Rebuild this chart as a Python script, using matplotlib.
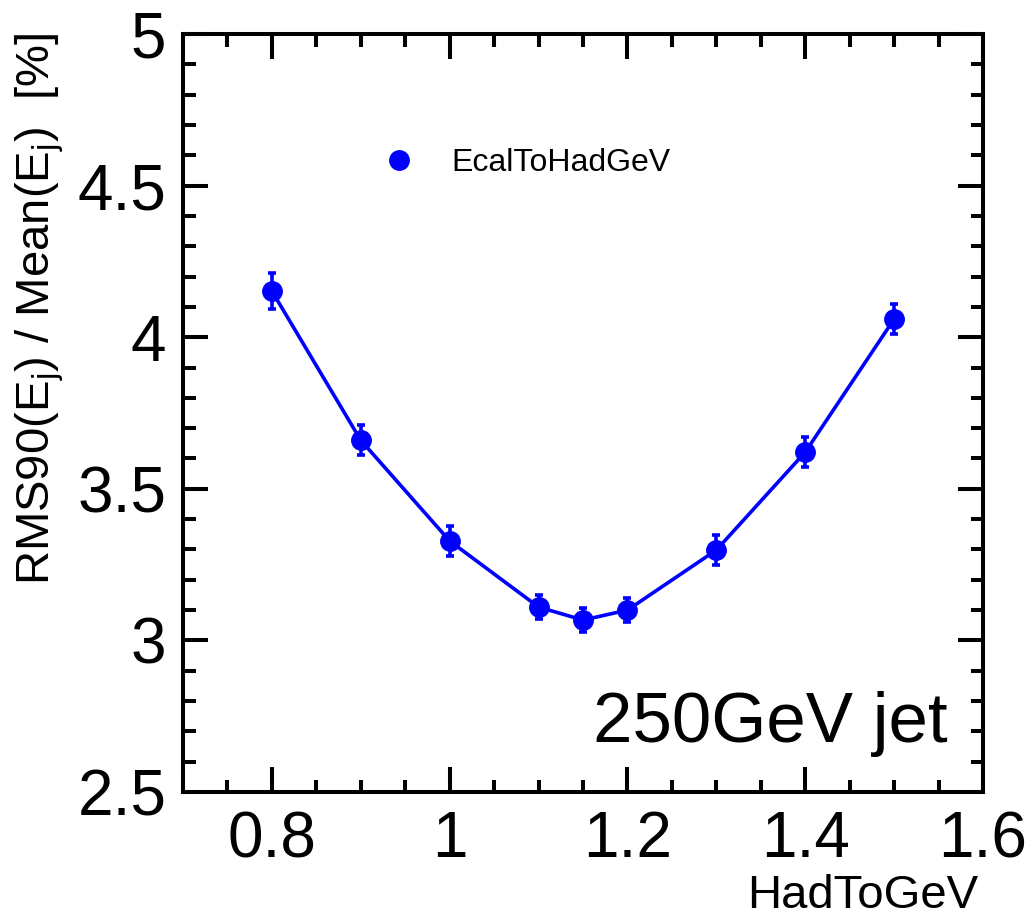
import matplotlib
matplotlib.use("Agg")
import matplotlib.pyplot as plt
from matplotlib.lines import Line2D
from matplotlib.ticker import MultipleLocator

plt.rcParams["font.family"] = ["Liberation Sans", "DejaVu Sans"]
plt.rcParams["mathtext.fontset"] = "custom"
plt.rcParams["mathtext.rm"] = "Liberation Sans"
plt.rcParams["mathtext.it"] = "Liberation Sans"

# data
had_to_gev = [0.8, 0.9, 1.0, 1.1, 1.15, 1.2, 1.3, 1.4, 1.5]
rms90 = [4.152, 3.660, 3.328, 3.110, 3.067, 3.100, 3.298, 3.621, 4.060]
rms90_err = [0.060, 0.050, 0.050, 0.040, 0.040, 0.040, 0.050, 0.050, 0.050]

blue = "#0000ff"

fig = plt.figure(figsize=(10.27, 9.19), dpi=100)
ax = fig.add_axes([0.1782, 0.1382, 0.779, 0.8248])

ax.errorbar(had_to_gev, rms90, yerr=rms90_err, color=blue, marker="o",
            markersize=14, linewidth=2.6, elinewidth=2.6, capsize=3,
            capthick=2.6)

ax.set_xlim(0.7, 1.6)
ax.set_ylim(2.5, 5.0)
ax.xaxis.set_major_locator(MultipleLocator(0.2))
ax.xaxis.set_minor_locator(MultipleLocator(0.05))
ax.yaxis.set_major_locator(MultipleLocator(0.5))
ax.yaxis.set_minor_locator(MultipleLocator(0.1))
ax.set_xticks([0.8, 1.0, 1.2, 1.4, 1.6])
ax.set_xticklabels(["0.8", "1", "1.2", "1.4", "1.6"])
ax.set_yticks([2.5, 3.0, 3.5, 4.0, 4.5, 5.0])
ax.set_yticklabels(["2.5", "3", "3.5", "4", "4.5", "5"])

for s in ax.spines.values():
    s.set_linewidth(2.9)
ax.tick_params(which="both", direction="in", top=True, right=True,
               width=2.9, color="black")
ax.tick_params(which="major", length=18, labelsize=46)
ax.tick_params(which="minor", length=9)
ax.tick_params(axis="x", which="major", pad=13)
ax.tick_params(axis="y", which="major", pad=12)

fig.text(40 / 1027, 1 - 33 / 919,
         r"RMS90(E$_\mathrm{j}$) / Mean(E$_\mathrm{j}$)  [%]",
         rotation=90, ha="center", va="top", fontsize=34)
fig.text(978 / 1027, 1 - 896 / 919, "HadToGeV", ha="right", va="center",
         fontsize=34)
ax.text(0.956, 0.066, "250GeV jet", transform=ax.transAxes, ha="right",
        va="baseline", fontsize=51)

handle = Line2D([], [], color=blue, marker="o", linestyle="none",
                markersize=14)
ax.legend([handle], ["EcalToHadGeV"], loc="center left",
          bbox_to_anchor=(0.25, 0.83), frameon=False, fontsize=23,
          handlelength=1.0, handletextpad=1.15, borderpad=0,
          borderaxespad=0)

fig.savefig("out.png", dpi=100)
